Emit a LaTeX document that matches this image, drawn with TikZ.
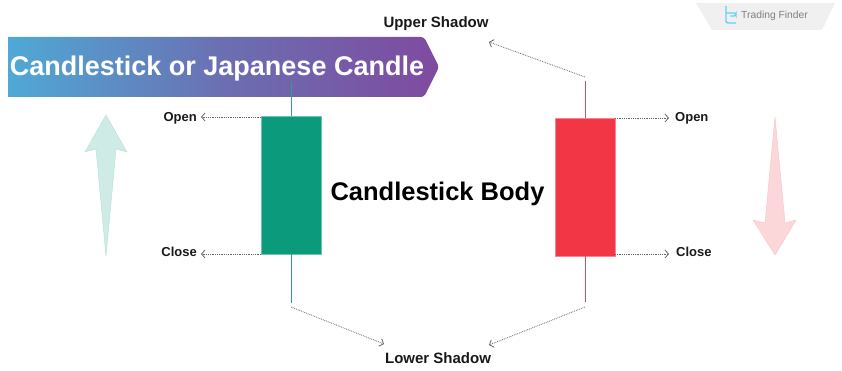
\documentclass[tikz,border=0pt]{standalone}
\usepackage{fontspec}
\setmainfont{Liberation Sans}
\usepackage{xcolor}
\usetikzlibrary{arrows.meta}
\usetikzlibrary{calc}
\definecolor{bullgreen}{HTML}{0B9A7C}
\definecolor{bearred}{HTML}{F23645}
\definecolor{bullwick}{HTML}{2FA088}
\definecolor{bearwick}{HTML}{D04F62}
\definecolor{bannerblue}{HTML}{4FA9D6}
\definecolor{bannermid}{HTML}{6B6FB2}
\definecolor{bannerpurple}{HTML}{7F4A9F}
\tikzset{
    candlebody/.style={minimum width=60pt,inner sep=0pt,draw=#1!60,line width=.5pt,fill=#1},
    wick/.style={line width=1pt},
    leader/.style={-{Straight Barb[length=3.5pt,width=8pt]},densely dotted,line width=.8pt,draw=black!60},
    sidelabel/.style={font=\bfseries\fontsize{13}{15}\selectfont,text=black!90,inner sep=0pt},
    shadowlabel/.style={font=\bfseries\fontsize{15}{17}\selectfont,text=black!90,inner sep=0pt},
    bigarrow/.style={draw=#1!28,fill=#1!20,line width=.5pt}
}
\begin{document}
\begin{tikzpicture}[x=1pt,y=-1pt]
\useasboundingbox (0,0) rectangle (842,371);
% logo
\fill[black!6] (696,3) -- (835,3) -- (822,30) -- (712,30) -- cycle;
\draw[cyan!60,line width=1.4pt,rounded corners=2pt] (726,6) -- (726,23) -- (736,23) (726,13) -- (736,13) -- (736,16) -- (730,16);
\node[font=\fontsize{10.3}{12}\selectfont,text=black!50,inner sep=0pt] (logotext) at (774.5,16) {Trading Finder};
% banner
\shade[left color=bannerblue,right color=bannerpurple,middle color=bannermid]
    (8,37) [rounded corners=3pt] -- (424,37) -- (439,67) -- (424,97) [sharp corners] -- (8,97) -- cycle;
\node[font=\bfseries\fontsize{27}{30}\selectfont,text=white,inner sep=0pt] (title) at (217,68.5) {Candlestick or Japanese Candle};
% candles
\node[candlebody=bullgreen,minimum height=138pt] (greenbody) at (291,185) {};
\node[candlebody=bearred,minimum height=138pt] (redbody) at (585,187) {};
\foreach \x/\y/\p in {291/82/gtop, 291/303/gbot, 585/81/rtop, 585/302/rbot}{
    \coordinate (\p) at (\x,\y);
}
\draw[wick,bullwick] (greenbody.north) -- (gtop);
\draw[wick,bullwick] (greenbody.south) -- (gbot);
\draw[wick,bearwick] (redbody.north) -- (rtop);
\draw[wick,bearwick] (redbody.south) -- (rbot);
% labels
\foreach \x/\y/\p/\a/\t in {197/118/gopen/east/Open, 197/252/gclose/east/Close, 675/118/ropen/west/Open, 676/252/rclose/west/Close}{
    \node[sidelabel,anchor=\a] (\p) at (\x,\y) {\t};
}
\node[shadowlabel] (upper) at (436,24) {Upper Shadow};
\node[shadowlabel] (lower) at (438,358) {Lower Shadow};
\node[font=\bfseries\fontsize{25.5}{28}\selectfont,inner sep=0pt] (bodylabel) at (437.5,194) {Candlestick Body};
% leaders
\foreach \x/\y/\p in {261/117/gostart, 201/117/goend, 261/254/gcstart, 201/254/gcend, 615/118/rostart, 669/118/roend, 615/254/rcstart, 669/254/rcend, 585/77/ustart, 489/42/uend, 291/307/lstart, 384/344/lend, 585/307/rstart, 489/345/rend}{
    \coordinate (\p) at (\x,\y);
}
\draw[leader] (gostart) -- (goend);
\draw[leader] (gcstart) -- (gcend);
\draw[leader] (rostart) -- (roend);
\draw[leader] (rcstart) -- (rcend);
\draw[leader] (ustart) -- (uend);
\draw[leader] (lstart) -- (lend);
\draw[leader] (rstart) -- (rend);
% big arrows
\draw[bigarrow=bullgreen] (106,115) -- (127,152) -- (116,149) -- (106,256) -- (96,149) -- (85,152) -- cycle;
\draw[bigarrow=bearred] (775,117) -- (785,223) -- (796,220) -- (775,255) -- (753,220) -- (765,223) -- cycle;
\end{tikzpicture}
\end{document}
